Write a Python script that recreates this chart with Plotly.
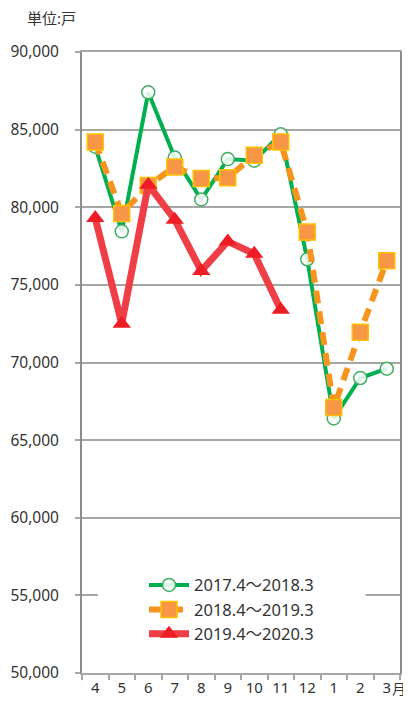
import plotly.graph_objects as go

months = ["4", "5", "6", "7", "8", "9", "10", "11", "12", "1", "2", "3"]
series_names = ["2017.4～2018.3", "2018.4～2019.3", "2019.4～2020.3"]
s2017 = [83900, 78450, 87400, 83200, 80500, 83100, 83000, 84700, 76650, 66400, 69000, 69600]
s2018 = [84200, 79600, 81400, 82600, 81850, 81900, 83350, 84200, 78400, 67100, 71950, 76550]
s2019 = [79300, 72500, 81450, 79200, 75900, 77800, 77000, 73400, None, None, None, None]
y_ticks = [50000, 55000, 60000, 65000, 70000, 75000, 80000, 85000, 90000]

FONT = "Noto Sans, Noto Sans CJK JP, sans-serif"
TXT = "#333333"
GRID = "#a6a6a6"

fig = go.Figure()
fig.add_trace(go.Scatter(
    x=months, y=s2017, name=series_names[0], mode="lines+markers",
    line=dict(color="#00b050", width=4),
    marker=dict(symbol="circle", size=13, color="rgba(255,255,255,0.85)",
                line=dict(color="#3fae63", width=1.5)),
))
fig.add_trace(go.Scatter(
    x=months, y=s2018, name=series_names[1], mode="lines+markers",
    line=dict(color="#f7941d", width=6, dash="13px,8px"),
    marker=dict(symbol="square", size=16, color="#f79646",
                line=dict(color="#ffc000", width=1.5)),
))
fig.add_trace(go.Scatter(
    x=months, y=s2019, name=series_names[2], mode="lines+markers",
    line=dict(color="#ef3e46", width=7),
    marker=dict(symbol="triangle-up", size=16, color="#ee1c25",
                line=dict(width=0)),
))

fig.update_layout(
    width=403, height=693,
    margin=dict(l=74, r=11, t=44, b=28, autoexpand=False),
    paper_bgcolor="white", plot_bgcolor="white",
    font=dict(family=FONT, size=15, color=TXT),
    showlegend=True,
    legend=dict(
        x=0.195, y=0.1695, xanchor="left", yanchor="top",
        bgcolor="rgba(0,0,0,0)", borderwidth=0,
        font=dict(size=16.5, color=TXT), itemwidth=40,
    ),
    xaxis=dict(
        type="category", range=[-0.5, 11.5], automargin=False,
        showgrid=False, showline=True, linecolor=GRID, linewidth=2,
        mirror=True, ticks="outside", tickson="boundaries",
        ticklen=5, tickcolor=GRID, tickwidth=1.5, tickangle=0,
        ticklabelstandoff=0,
        tickfont=dict(size=15, color=TXT),
    ),
    yaxis=dict(
        range=[50000, 90000], tickvals=y_ticks, tickformat=",",
        automargin=False,
        showgrid=True, gridcolor=GRID, gridwidth=1.5,
        showline=True, linecolor="#8c8c8c", linewidth=2, mirror=True,
        ticks="outside", ticklen=5, tickcolor=GRID, tickwidth=1.5,
        ticklabelstandoff=13,
        tickfont=dict(size=15.5, color=TXT), zeroline=False,
    ),
    shapes=[dict(type="rect", xref="x", yref="y",
                 x0=0.1, x1=10.2, y0=52400, y1=56900,
                 fillcolor="white", line=dict(width=0), layer="above")],
    annotations=[
        dict(text="単位:戸", xref="paper", yref="paper", x=-0.179, y=1.055,
             xanchor="left", yanchor="middle", showarrow=False,
             font=dict(size=15, color=TXT)),
        dict(text="月", xref="paper", yref="paper", x=1.025, y=-0.025,
             xanchor="right", yanchor="middle", showarrow=False,
             font=dict(size=14, color=TXT)),
    ],
)

fig.write_html("out.html")
